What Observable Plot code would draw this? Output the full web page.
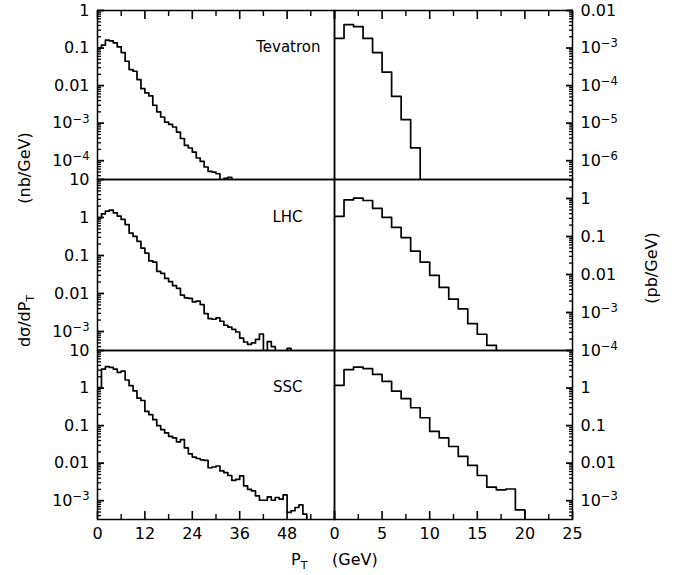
<!DOCTYPE html>
<html><head><meta charset="utf-8">
<script src="https://cdn.jsdelivr.net/npm/d3@7"></script>
<script src="https://cdn.jsdelivr.net/npm/@observablehq/plot@0.6"></script>
<style>
body{margin:0;background:#fff;}
#chart{position:relative;width:691px;height:575px;background:#fff;}
#chart svg{position:absolute;left:0;top:0;}
</style></head><body><div id="chart"></div>
<script>
const W = 691, H = 575;

// d sigma / dPT per 1-GeV bin (left: nb/GeV, right: pb/GeV); 0 = empty bin
const tevatronLeft = [0.101, 0.119, 0.162, 0.155, 0.137, 0.107, 0.0759, 0.0446, 0.0267, 0.0241,
  0.0145, 0.0083, 0.0064, 0.0053, 0.0030, 0.0020, 0.00146, 0.00107, 0.00093, 0.00079,
  0.00058, 0.00039, 0.000256, 0.000218, 0.00017, 0.000118, 0.000096, 0.000068, 0.000052, 0.000050,
  0.000045, 0, 0.000034, 0.000036, 0];
const lhcLeft = [0.98, 1.25, 1.47, 1.57, 1.33, 1.09, 0.89, 0.65, 0.39, 0.32,
  0.236, 0.157, 0.116, 0.072, 0.067, 0.038, 0.034, 0.025, 0.0205, 0.0161,
  0.0137, 0.0091, 0.0077, 0.0074, 0.00605, 0.0063, 0.0051, 0.00296, 0.00219, 0.0021,
  0.00228, 0.00186, 0.00146, 0.00131, 0.00114, 0.00097, 0.00067, 0.00053, 0.00046, 0.0005,
  0.00062, 0.00086, 0, 0.00054, 0.0004, 0, 0, 0, 0.00036, 0];
const sscLeft = [1.03, 3.2, 3.7, 3.55, 3.2, 2.62, 2.84, 1.64, 1.16, 0.84,
  0.537, 0.466, 0.238, 0.195, 0.144, 0.0995, 0.078, 0.064, 0.052, 0.047,
  0.0368, 0.0425, 0.0255, 0.0177, 0.0145, 0.0133, 0.0123, 0.0118, 0.00755, 0.0079,
  0.0084, 0.0062, 0.0056, 0.0047, 0.0035, 0.0037, 0.0046, 0.0025, 0.0020, 0.00182,
  0.00135, 0.00103, 0.00103, 0.00126, 0.00103, 0.00122, 0.0011, 0.00143, 0.00049, 0.00054,
  0.00066, 0.00078, 0.00044, 0];
const tevatronRight = [0.0018, 0.0042, 0.0037, 0.0018, 0.00076, 0.00023, 0.000052, 0.0000124, 0.0000022, 0];
const lhcRight = [0.339, 0.92, 1.02, 0.885, 0.553, 0.319, 0.173, 0.0937, 0.0414, 0.0211,
  0.0095, 0.00457, 0.00224, 0.00124, 0.00051, 0.000268, 0.000136, 0];
const sscRight = [1.18, 3.08, 3.63, 3.28, 2.31, 1.51, 0.83, 0.52, 0.299, 0.162,
  0.0699, 0.0474, 0.0278, 0.0151, 0.0087, 0.0047, 0.00229, 0.00195, 0.00205, 0.00057, 0];

// tick values
const leftXLabels = [0, 12, 24, 36, 48];
const leftXMajor = [0, 12, 24, 36, 48, 60];
const leftXMinor = [6, 18, 30, 42, 54];
const rightXLabels = [0, 5, 10, 15, 20, 25];
const rightXMinor = [2.5, 7.5, 12.5, 17.5, 22.5];
const tevLeftY = [1, 0.1, 0.01, 1e-3, 1e-4];
const lhcLeftY = [10, 1, 0.1, 0.01, 1e-3];
const sscLeftY = [10, 1, 0.1, 0.01, 1e-3];
const tevRightY = [0.01, 1e-3, 1e-4, 1e-5, 1e-6];
const lhcRightY = [1, 0.1, 0.01, 1e-3, 1e-4];
const sscRightY = [1, 0.1, 0.01, 1e-3];
const panelNames = ["Tevatron", "LHC", "SSC"];

function stepData(values, floor) {
  const pts = values.map((v, i) => ({x: i, y: v > 0 ? v : floor}));
  const last = values[values.length - 1];
  pts.push({x: values.length, y: last > 0 ? last : floor});
  return pts;
}
function minorTicks(lo, hi) {
  const out = [];
  for (let e = Math.floor(lo); e < Math.ceil(hi); e++)
    for (let m = 2; m <= 9; m++) {
      const v = m * Math.pow(10, e);
      if (v >= Math.pow(10, lo) && v <= Math.pow(10, hi)) out.push(v);
    }
  return out;
}
function fmt(v) {
  const e = Math.round(Math.log10(v));
  if (e >= 0) return String(Math.pow(10, e));
  if (e >= -2) return Math.pow(10, e).toFixed(-e);
  return "10^\u2212" + (-e);
}

// inward ticks: positive tickSize shifted back into the frame
function inY(data, anchor, len, sw) {
  return Plot.axisY(data, {anchor, tickSize: len, dx: anchor === "left" ? len : -len, fill: "none", label: null, strokeWidth: sw});
}
function inX(data, anchor, len, sw) {
  return Plot.axisX(data, {anchor, tickSize: len, dy: anchor === "top" ? len : -len, fill: "none", label: null, strokeWidth: sw});
}

function panel(o) {
  const [lo, hi] = o.yExp;
  const floor = Math.pow(10, lo - 2);
  const anchor = o.side;
  const marks = [
    inY(minorTicks(lo, hi), anchor, 4, 1.3),
    inY(o.yTicks, anchor, 7, 1.8),
    Plot.axisY(o.yTicks, {anchor, tickSize: 0, tickPadding: 8, tickFormat: fmt, label: null}),
    Plot.lineY(stepData(o.values, floor), {x: "x", y: "y", curve: "step-after", stroke: "black", strokeWidth: 1.7, clip: true}),
    Plot.frame({stroke: "black", strokeWidth: 1.5})
  ];
  if (o.xAnchor) {
    marks.push(inX(o.xMinor, o.xAnchor, 5, 1.4));
    marks.push(inX(o.xMajor, o.xAnchor, 8, 1.6));
  }
  if (o.xLabels) marks.push(Plot.axisX(o.xLabels, {anchor: "bottom", tickSize: 0, tickPadding: 8, label: null, tickFormat: d => String(d)}));
  if (o.name) marks.push(Plot.text([o.name], {frameAnchor: "top-right", text: d => d, dx: o.nameDx, dy: o.nameDy, textAnchor: "end", lineAnchor: "middle", fontSize: 15}));
  const [x0, x1, y0, y1] = o.frame;
  const svg = Plot.plot({
    width: W, height: H,
    marginLeft: x0, marginRight: W - x1, marginTop: y0, marginBottom: H - y1,
    x: {domain: o.xDomain, axis: o.xAnchor || o.xLabels ? undefined : null},
    y: {type: "log", domain: [Math.pow(10, lo), Math.pow(10, hi)]},
    style: {background: "transparent", fontFamily: "DejaVu Sans", fontSize: "16px", color: "black", overflow: "visible"},
    marks
  });
  d3.select(svg).selectAll("text").each(function () {
    const m = /^10\^(.+)$/.exec(this.textContent);
    if (m && this.children.length === 0) {
      this.textContent = "10";
      d3.select(this).append("tspan").attr("dy", "-0.5em").attr("font-size", "0.72em").text(m[1]);
    }
  });
  return svg;
}

const L = [97, 334], R = [334, 572];
const rows = [[10, 179], [179, 350], [350, 519]];
const chart = document.getElementById("chart");
const cfgs = [
  {values: tevatronLeft, xDomain: [0, 60], yExp: [-4.5, 0], yTicks: tevLeftY, side: "left", frame: [...L, ...rows[0]], xAnchor: "top", xMajor: leftXMajor, xMinor: leftXMinor, name: panelNames[0], nameDx: -14, nameDy: 37},
  {values: lhcLeft, xDomain: [0, 60], yExp: [-3.5, 1], yTicks: lhcLeftY, side: "left", frame: [...L, ...rows[1]], name: panelNames[1], nameDx: -32, nameDy: 38},
  {values: sscLeft, xDomain: [0, 60], yExp: [-3.5, 1], yTicks: sscLeftY, side: "left", frame: [...L, ...rows[2]], xAnchor: "bottom", xMajor: leftXMajor, xMinor: leftXMinor, xLabels: leftXLabels, name: panelNames[2], nameDx: -32, nameDy: 37},
  {values: tevatronRight, xDomain: [0, 25], yExp: [-6.5, -2], yTicks: tevRightY, side: "right", frame: [...R, ...rows[0]], xAnchor: "top", xMajor: rightXLabels, xMinor: rightXMinor},
  {values: lhcRight, xDomain: [0, 25], yExp: [-4, 0.5], yTicks: lhcRightY, side: "right", frame: [...R, ...rows[1]]},
  {values: sscRight, xDomain: [0, 25], yExp: [-3.5, 1], yTicks: sscRightY, side: "right", frame: [...R, ...rows[2]], xAnchor: "bottom", xMajor: rightXLabels, xMinor: rightXMinor, xLabels: rightXLabels}
];
cfgs.forEach(c => chart.appendChild(panel(c)));

// axis titles
const ov = d3.select(chart).append("svg").attr("width", W).attr("height", H)
  .style("font-family", "DejaVu Sans").attr("fill", "black");
ov.append("text").attr("transform", "translate(30,168) rotate(-90)").attr("text-anchor", "middle")
  .attr("font-size", 16).text("(nb/GeV)");
const yl = ov.append("text").attr("transform", "translate(30,321) rotate(-90)").attr("text-anchor", "middle").attr("font-size", 16);
yl.append("tspan").text("d\u03c3/dP");
yl.append("tspan").attr("dy", 4).attr("font-size", 11).text("T");
ov.append("text").attr("transform", "translate(657,268) rotate(-90)").attr("text-anchor", "middle")
  .attr("font-size", 16).text("(pb/GeV)");
const xl = ov.append("text").attr("x", 291).attr("y", 565).attr("font-size", 16);
xl.append("tspan").text("P");
xl.append("tspan").attr("dy", 4).attr("font-size", 11).text("T");
xl.append("tspan").attr("x", 332).attr("dy", -4).text("(GeV)");
</script></body></html>
